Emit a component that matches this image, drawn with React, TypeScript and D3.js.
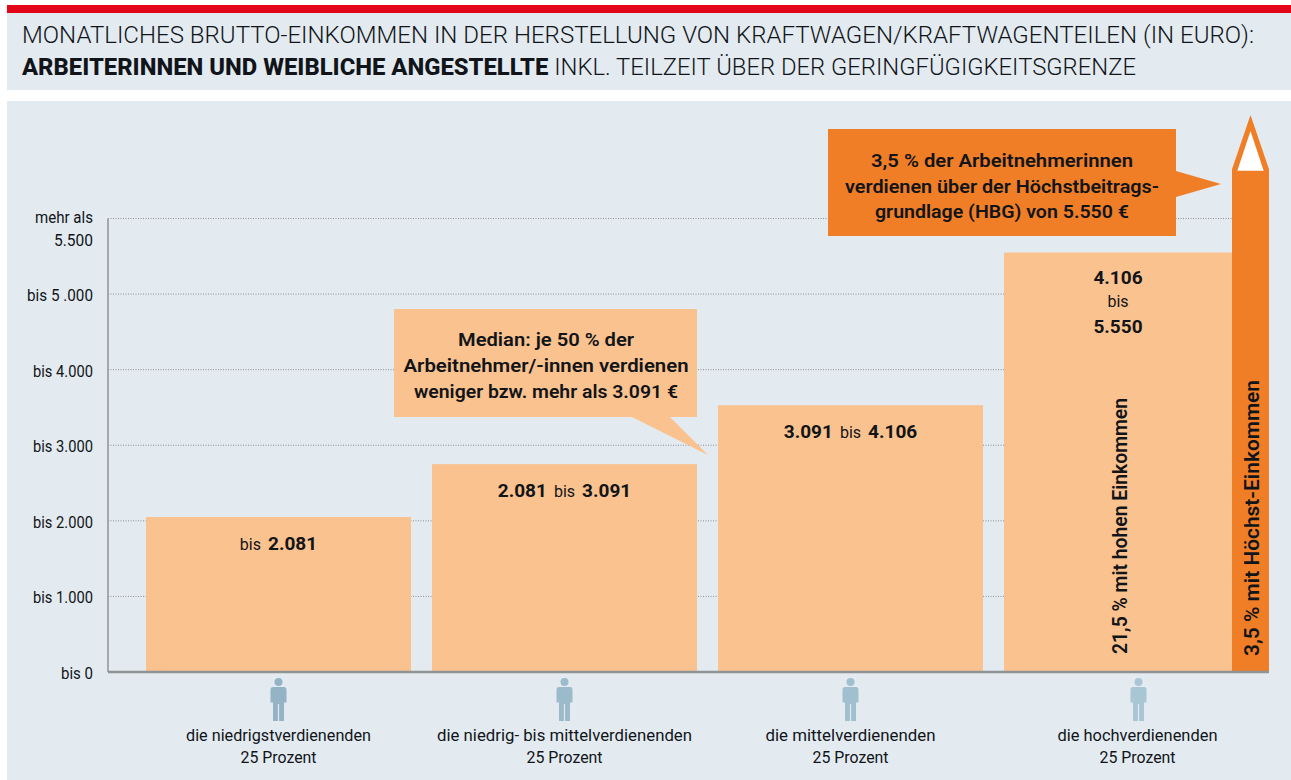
import React from "react";
import * as d3 from "d3";

const titleLine1 = "MONATLICHES BRUTTO-EINKOMMEN IN DER HERSTELLUNG VON KRAFTWAGEN/KRAFTWAGENTEILEN (IN EURO):";
const titleBold = "ARBEITERINNEN UND WEIBLICHE ANGESTELLTE";
const titleRest = " INKL. TEILZEIT ÜBER DER GERINGFÜGIGKEITSGRENZE";

const tickValues = [0, 1000, 2000, 3000, 4000, 5000, 6000];
const tickLabels = ["bis 0", "bis 1.000", "bis 2.000", "bis 3.000", "bis 4.000", "bis 5 .000", "mehr als"];
const tickLabelSecond = "5.500";

const groups = ["niedrigst", "niedrig-mittel", "mittel", "hoch"];
const barTops = [2050, 2750, 3530, 5550];
const groupLabels = ["die niedrigstverdienenden", "die niedrig- bis mittelverdienenden", "die mittelverdienenden", "die hochverdienenden"];
const groupShare = "25 Prozent";

const spikeBodyTop = 6650;
const spikeTip = 7370;

const medianLines = ["Median: je 50 % der", "Arbeitnehmer/-innen verdienen", "weniger bzw. mehr als 3.091 €"];
const hbgLines = ["3,5 % der Arbeitnehmerinnen", "verdienen über der Höchstbeitrags-", "grundlage (HBG) von 5.550 €"];

// rendered widths, used to narrow the substitute font to the reference's condensed face
const tickWidths = [32, 60, 60, 60, 60, 66, 58];
const groupWidths = [185, 255, 170, 160];
const medianWidths = [176, 285, 264];
const hbgWidths = [262, 314, 254];

const FONT = "Roboto, sans-serif";
const BG = "#e3ebf1";
const BAR = "#fac28f";
const ORANGE = "#f07e26";
const RED = "#e30618";
const INK = "#111418";
const figColour = d3.interpolateRgb("#94b4c5", "#a8c6d4");

const y = d3.scaleLinear().domain([0, 6000]).range([672, 218.5]);
const x = d3.scaleBand<string>().domain(groups).range([146, 1269]).paddingInner(21 / 286);
const bw = x.bandwidth();

const Person = ({ cx, fill }: { cx: number; fill: string }) => (
  <g transform={`translate(${cx},0)`} fill={fill}>
    <circle cx={0} cy={682} r={4} />
    <path d="M-5.5,687 H5.5 Q8,687 8,690 V702.5 H5.5 V721 H0.6 V704 H-0.6 V721 H-5.5 V702.5 H-8 V690 Q-8,687 -5.5,687 Z" />
  </g>
);

const T = (p: any) => <text fontFamily={FONT} fill={INK} textAnchor="middle" lengthAdjust={p.textLength ? "spacingAndGlyphs" : undefined} {...p} />;

export default function App() {
  const cx = groups.map((g) => (x(g) as number) + bw / 2);
  const x4 = x("hoch") as number;
  const spikeL = 1232;
  const spikeR = 1269;
  const spikeC = (spikeL + spikeR) / 2;
  const numSize = 19;
  const bisSize = 16;
  return (
    <svg width={1291} height={780} style={{ position: "absolute", left: 0, top: 0, background: "#fff" }}>
      <rect x={7} y={5} width={1284} height={8} fill={RED} />
      <rect x={7} y={13} width={1284} height={77} fill={BG} />
      <rect x={7} y={101} width={1284} height={679} fill={BG} />

      <text x={22} y={43} fontFamily={FONT} fontSize={24} fill={INK} fontWeight={300} textLength={1232} lengthAdjust="spacingAndGlyphs">{titleLine1}</text>
      <text x={22} y={75} fontFamily={FONT} fontSize={24} fill={INK} fontWeight={300} textLength={1114} lengthAdjust="spacingAndGlyphs">
        <tspan fontWeight={800}>{titleBold}</tspan>{titleRest}
      </text>

      {tickValues.map((v) => (
        <line key={v} x1={108} x2={1232} y1={y(v)} y2={y(v)} stroke="#8b8f92" strokeWidth={1} strokeDasharray="1 1.5" />
      ))}
      <line x1={108} x2={108} y1={y(6000)} y2={y(0)} stroke="#8f9395" strokeWidth={1.5} />

      {tickValues.map((v, i) => (
        <T key={v} x={93} y={y(v) + (i === 6 ? 4 : 7)} textAnchor="end" fontSize={16.5} textLength={tickWidths[i]}>{tickLabels[i]}</T>
      ))}
      <T x={93} y={y(6000) + 27} textAnchor="end" fontSize={16.5} textLength={39}>{tickLabelSecond}</T>

      {groups.map((g, i) => (
        <rect key={g} x={x(g)} y={y(barTops[i])} width={bw} height={y(0) - y(barTops[i])} fill={BAR} />
      ))}

      <path d={d3.line()([[spikeL, y(spikeBodyTop)], [spikeC, y(spikeTip)], [spikeR, y(spikeBodyTop)], [spikeR, y(0)], [spikeL, y(0)]]) + "Z"} fill={ORANGE} />
      <path d={d3.line()([[spikeL + 5.3, y(spikeBodyTop) + 1.5], [spikeC, y(spikeTip) + 16], [spikeR - 5.3, y(spikeBodyTop) + 1.5]]) + "Z"} fill="#fff" />

      <line x1={108} x2={spikeR} y1={y(0)} y2={y(0)} stroke="#8f9395" strokeWidth={2.5} />

      <path d="M394,309 H697 V417 H670 L708,455 L632,417 H394 Z" fill={BAR} />
      {medianLines.map((l, i) => (
        <T key={l} x={546} y={346 + i * 26} fontSize={18.5} fontWeight={600} textLength={medianWidths[i]}>{l}</T>
      ))}

      <path d="M828,129 H1176 V171 L1221,184 L1176,197 V236 H828 Z" fill={ORANGE} />
      {hbgLines.map((l, i) => (
        <T key={l} x={1002} y={167 + i * 25.5} fontSize={18.5} fontWeight={600} textLength={hbgWidths[i]}>{l}</T>
      ))}

      <T x={cx[0]} y={550} fontSize={numSize}><tspan fontSize={bisSize}>bis</tspan><tspan dx={7} fontWeight={700}>2.081</tspan></T>
      <T x={cx[1]} y={497} fontSize={numSize}><tspan fontWeight={700}>2.081</tspan><tspan dx={7} fontSize={bisSize}>bis</tspan><tspan dx={7} fontWeight={700}>3.091</tspan></T>
      <T x={cx[2]} y={438} fontSize={numSize}><tspan fontWeight={700}>3.091</tspan><tspan dx={7} fontSize={bisSize}>bis</tspan><tspan dx={7} fontWeight={700}>4.106</tspan></T>
      <T x={(x4 + spikeL) / 2} y={284} fontSize={numSize} fontWeight={700}>4.106</T>
      <T x={(x4 + spikeL) / 2} y={307} fontSize={bisSize}>bis</T>
      <T x={(x4 + spikeL) / 2} y={333} fontSize={numSize} fontWeight={700}>5.550</T>

      <T transform="translate(1127,654) rotate(-90)" textAnchor="start" fontSize={20.5} fontWeight={600} textLength={256}>21,5 % mit hohen Einkommen</T>
      <T transform="translate(1259,656) rotate(-90)" textAnchor="start" fontSize={20.5} fontWeight={600} textLength={276}>3,5 % mit Höchst-Einkommen</T>

      {groups.map((g, i) => (
        <g key={g}>
          <Person cx={cx[i] + (i === 3 ? 2 : 0)} fill={figColour(i / 3)} />
          <T x={cx[i] + (i === 3 ? 1 : 0)} y={741} fontSize={16.5} textLength={groupWidths[i]}>{groupLabels[i]}</T>
          <T x={cx[i] + (i === 3 ? 1 : 0)} y={763} fontSize={16.5} textLength={76}>{groupShare}</T>
        </g>
      ))}
    </svg>
  );
}
